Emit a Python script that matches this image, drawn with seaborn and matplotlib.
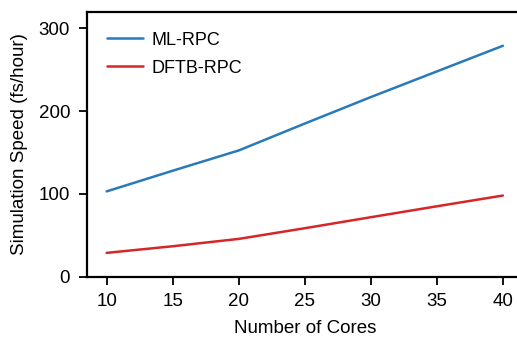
import matplotlib
matplotlib.use("Agg")
import matplotlib.pyplot as plt
import seaborn as sns
import pandas as pd

cores = [10, 15, 20, 25, 30, 35, 40]
ml_rpc = [103, 128, 152.5, 185, 217, 248, 279]
dftb_rpc = [28.7, 36.7, 45.6, 58.5, 71.8, 85, 98]
series_names = ["ML-RPC", "DFTB-RPC"]
colors = ["#2a7ab9", "#d62728"]

sns.set_style("ticks")
plt.rcParams['font.family'] = ['Liberation Sans', 'DejaVu Sans']
plt.rcParams['text.color'] = 'black'
plt.rcParams['axes.labelcolor'] = 'black'
plt.rcParams['xtick.color'] = 'black'
plt.rcParams['ytick.color'] = 'black'

df = pd.DataFrame({
    "cores": cores * 2,
    "speed": ml_rpc + dftb_rpc,
    "method": [series_names[0]] * len(cores) + [series_names[1]] * len(cores),
})

fig = plt.figure(figsize=(5.17, 3.39), dpi=100)
ax = fig.add_axes([0.168, 0.184, 0.843, 0.781])
sns.lineplot(data=df, x="cores", y="speed", hue="method", palette=colors,
             linewidth=1.8, ax=ax)

ax.set_xlim(8.5, 41.5)
ax.set_ylim(0, 320)
ax.set_xticks([10, 15, 20, 25, 30, 35, 40])
ax.set_yticks([0, 100, 200, 300])
ax.set_xlabel("Number of Cores", fontsize=13.5, labelpad=7)
ax.set_ylabel("Simulation Speed (fs/hour)", fontsize=13.5, labelpad=8)
ax.tick_params(axis="both", labelsize=13.5, length=6, width=1.3,
               color="black", labelcolor="black", pad=6)
for s in ax.spines.values():
    s.set_linewidth(1.6)
    s.set_color("black")
ax.legend(frameon=False, fontsize=13, loc="upper left", handlelength=2.0,
          borderaxespad=0.7, labelspacing=0.6, handletextpad=0.5)

fig.savefig("out.png", dpi=100)
